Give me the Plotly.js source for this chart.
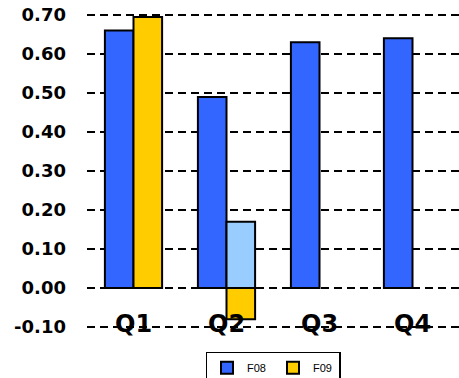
<!DOCTYPE html>
<html>
<head>
<meta charset="utf-8">
<script src="https://cdn.plot.ly/plotly-3.0.1.min.js"></script>
<style>
  html, body { margin: 0; padding: 0; background: #ffffff; }
  #chart { width: 459px; height: 378px; }
</style>
</head>
<body>
<div id="chart"></div>
<script>
// Quarterly values for the two fiscal years
const quarters = ['Q1', 'Q2', 'Q3', 'Q4'];
const f08 = [0.66, 0.49, 0.63, 0.64];
const f09 = [0.695, -0.08, null, null];
// Additional Q2 bar drawn in the F09 slot (not in the legend)
const f09Extra = [null, 0.17, null, null];
const yTicks = [-0.10, 0.00, 0.10, 0.20, 0.30, 0.40, 0.50, 0.60, 0.70];

const outline = { color: '#000000', width: 2 };

const traces = [
  {
    type: 'bar', name: 'F08', x: quarters, y: f08,
    offsetgroup: 'a',
    marker: { color: '#3366FF', line: outline },
    hoverinfo: 'x+y'
  },
  {
    type: 'bar', name: 'F09', x: quarters, y: f09,
    offsetgroup: 'b',
    marker: { color: '#FFCC00', line: outline },
    hoverinfo: 'x+y'
  },
  {
    type: 'bar', name: 'F09b', x: quarters, y: f09Extra,
    offsetgroup: 'b', showlegend: false,
    marker: { color: '#99CCFF', line: outline },
    hoverinfo: 'x+y'
  }
];

// Category labels sit on the bottom grid line
const catLabels = quarters.map(q => ({
  x: q, y: yTicks[0], xref: 'x', yref: 'y',
  text: q, showarrow: false, yanchor: 'middle', yshift: 3,
  bgcolor: 'rgba(0,0,0,0)',
  font: { family: 'DejaVu Sans', size: 24, color: '#000000', weight: 'bold' }
}));

const layout = {
  width: 459, height: 378,
  margin: { l: 87, r: 0, t: 13, b: 49, autoexpand: false },
  paper_bgcolor: '#ffffff',
  plot_bgcolor: '#ffffff',
  barmode: 'group',
  bargap: 0.385,
  bargroupgap: 0,
  showlegend: true,
  legend: {
    orientation: 'h',
    x: 0.5, xanchor: 'center',
    y: -0.072, yanchor: 'top',
    bgcolor: '#ffffff',
    bordercolor: '#000000', borderwidth: 1.5,
    font: { family: 'Liberation Sans', size: 11, color: '#000000' },
    itemwidth: 30,
    entrywidth: 21,
    tracegroupgap: 0
  },
  xaxis: {
    type: 'category',
    range: [-0.5, 3.5],
    showticklabels: false,
    showgrid: false,
    zeroline: false,
    showline: false,
    ticks: ''
  },
  yaxis: {
    range: [-0.105, 0.705],
    tickvals: yTicks,
    ticktext: yTicks.map(v => v.toFixed(2)),
    showgrid: true,
    gridcolor: '#000000',
    gridwidth: 2,
    griddash: '8px,5px',
    zeroline: false,
    showline: false,
    ticks: '',
    ticklabelstandoff: 20,
    tickfont: { family: 'DejaVu Sans', size: 18, color: '#000000', weight: 'bold' }
  },
  annotations: catLabels
};

Plotly.newPlot('chart', traces, layout, { displayModeBar: false, staticPlot: true });
</script>
</body>
</html>
